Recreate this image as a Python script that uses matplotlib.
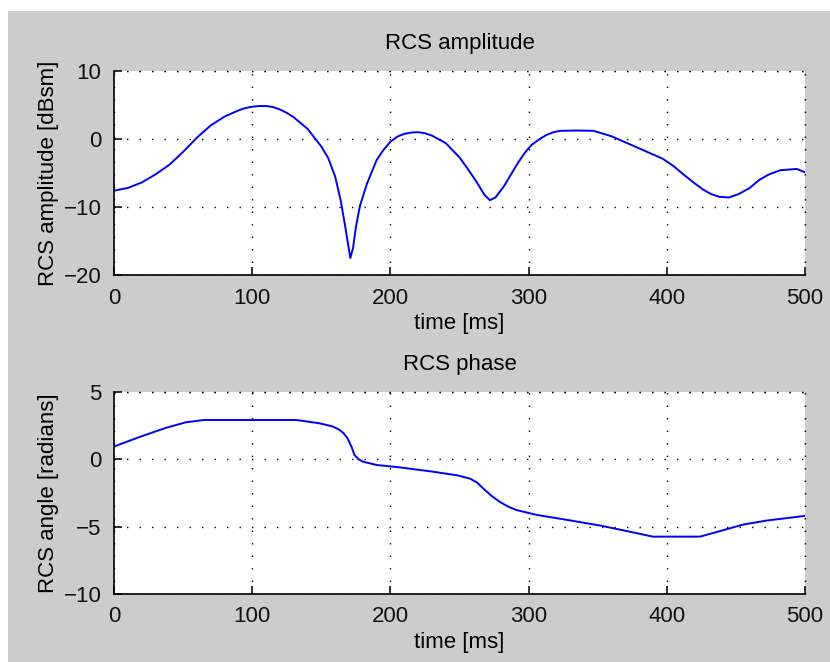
"""
Two-panel RCS plot (amplitude and phase over time), MATLAB-like look.
"""

import matplotlib
matplotlib.use("Agg")
import matplotlib.pyplot as plt
from matplotlib.patches import Rectangle


# RCS amplitude samples
amp_t = [0, 10, 20, 30, 40, 50, 60, 70, 80, 90, 95, 100, 105, 110, 115, 120,
         125, 130, 140, 150, 155, 160, 164, 167, 169, 171, 173, 175, 178, 183,
         190, 195, 200, 205, 210, 215, 220, 225, 230, 240, 250, 256, 262, 268,
         272, 276, 282, 287, 292, 297, 302, 308, 313, 318, 323, 335, 347, 360,
         378, 397, 405, 412, 420, 426, 432, 438, 445, 452, 460, 467, 474, 482,
         494, 500]
amp_db = [-7.6, -7.2, -6.4, -5.2, -3.8, -1.9, 0.2, 2.0, 3.3, 4.2, 4.55, 4.75,
          4.85, 4.85, 4.7, 4.35, 3.85, 3.2, 1.5, -1.1, -2.8, -5.5, -9.0, -12.5,
          -15.0, -17.5, -16.0, -13.0, -9.8, -6.6, -3.1, -1.6, -0.4, 0.35, 0.75,
          0.95, 1.0, 0.85, 0.5, -0.6, -2.7, -4.4, -6.2, -8.2, -9.0, -8.6,
          -7.0, -5.3, -3.6, -2.1, -0.9, 0.0, 0.6, 1.0, 1.2, 1.25, 1.2, 0.4,
          -1.2, -2.9, -4.0, -5.2, -6.5, -7.4, -8.1, -8.5, -8.6, -8.1, -7.2,
          -6.0, -5.2, -4.6, -4.4, -4.9]

# RCS phase samples
phase_t = [0, 19, 38, 52, 65, 100, 132, 149, 158, 163, 166, 169, 172, 174,
           177, 180, 190, 207, 231, 249, 258, 263, 267, 273, 279, 285, 291,
           306, 328, 352, 373, 390, 424, 436, 455, 472, 484, 500]
phase_rad = [0.95, 1.68, 2.35, 2.75, 2.92, 2.92, 2.92, 2.67, 2.45, 2.2, 1.95,
             1.56, 0.9, 0.32, 0.0, -0.17, -0.42, -0.6, -0.92, -1.2, -1.45,
             -1.75, -2.15, -2.7, -3.15, -3.5, -3.76, -4.13, -4.5, -4.92,
             -5.37, -5.74, -5.74, -5.4, -4.85, -4.55, -4.4, -4.2]

x_ticks = [0, 100, 200, 300, 400, 500]
amp_ticks = [-20, -10, 0, 10]
phase_ticks = [-10, -5, 0, 5]

FONT = ["Liberation Sans", "DejaVu Sans"]
BG = "#CCCCCC"
DOTS = (0, (1, 8))


def style_axes(ax, yticks, ylim):
    ax.set_xlim(0, 500)
    ax.set_ylim(*ylim)
    ax.set_xticks(x_ticks)
    ax.set_yticks(yticks)
    ax.spines["top"].set_visible(False)
    ax.spines["right"].set_visible(False)
    ax.spines["left"].set_linewidth(1.2)
    ax.spines["bottom"].set_linewidth(1.2)
    ax.tick_params(direction="in", length=6, width=1.2, labelsize=16,
                   pad=9, colors="#111111")
    ax.grid(True, color="black", linestyle=DOTS, linewidth=1.0)
    # dotted box on the top/right like MATLAB with grid on
    ax.axhline(ylim[1], color="black", linestyle=DOTS, linewidth=1.0,
               clip_on=False)
    ax.axvline(500, color="black", linestyle=DOTS, linewidth=1.0,
               clip_on=False)
    for lab in ax.get_xticklabels() + ax.get_yticklabels():
        lab.set_family(FONT)


fig = plt.figure(figsize=(8.3, 6.62), dpi=100, facecolor="white")
fig.add_artist(Rectangle((8 / 830, 0), 1, 1 - 11 / 662, transform=fig.transFigure,
                         facecolor=BG, edgecolor="none", zorder=-10))

ax1 = fig.add_axes([114 / 830, 1 - 275 / 662, 691 / 830, 204 / 662])
ax1.plot(amp_t, amp_db, color="#0000FF", linewidth=1.4)
style_axes(ax1, amp_ticks, (-20, 10))
ax1.set_title("RCS amplitude", fontsize=16, family=FONT, pad=16)
ax1.set_xlabel("time [ms]", fontsize=16, family=FONT, labelpad=3)
ax1.set_ylabel("RCS amplitude [dBsm]", fontsize=16, family=FONT, labelpad=3)

ax2 = fig.add_axes([114 / 830, 1 - 594 / 662, 691 / 830, 202 / 662])
ax2.plot(phase_t, phase_rad, color="#0000FF", linewidth=1.4)
style_axes(ax2, phase_ticks, (-10, 5))
ax2.set_title("RCS phase", fontsize=16, family=FONT, pad=16)
ax2.set_xlabel("time [ms]", fontsize=16, family=FONT, labelpad=3)
ax2.set_ylabel("RCS angle [radians]", fontsize=16, family=FONT, labelpad=3)

fig.savefig("out.png", dpi=100)
